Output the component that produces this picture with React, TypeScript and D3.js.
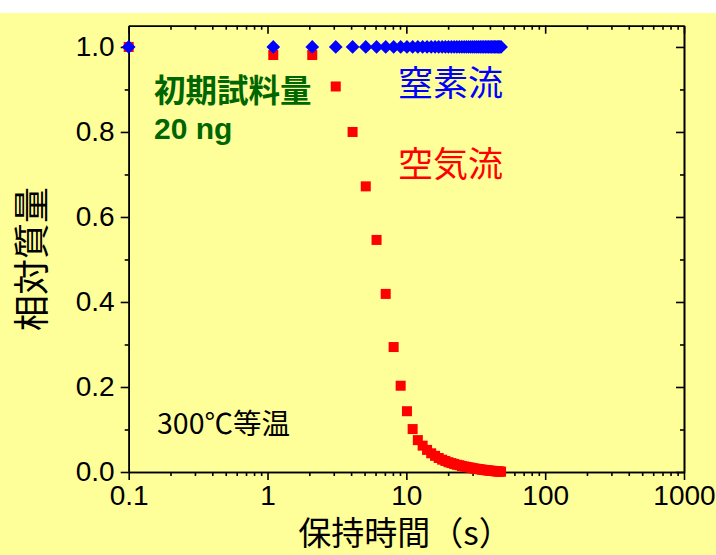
import React, { useEffect, useRef } from "react";
import * as d3 from "d3";

// holding time (s), one point per second, first point drawn at 0.1
const timeS = [
  0.1, 1.1, 2.1, 3.1, 4.1, 5.1, 6.1, 7.1, 8.1, 9.1, 10.1, 11.1, 12.1, 13.1, 14.1, 15.1, 16.1,
  17.1, 18.1, 19.1, 20.1, 21.1, 22.1, 23.1, 24.1, 25.1, 26.1, 27.1, 28.1, 29.1, 30.1, 31.1,
  32.1, 33.1, 34.1, 35.1, 36.1, 37.1, 38.1, 39.1, 40.1, 41.1, 42.1, 43.1, 44.1, 45.1, 46.1,
  47.1, 48.1,
];

// relative mass under air flow (red squares)
const airMass = [
  1.0, 0.981, 0.981, 0.907, 0.8, 0.672, 0.546, 0.419, 0.294, 0.203, 0.143, 0.101, 0.075, 0.062,
  0.052, 0.044, 0.038, 0.033, 0.029, 0.026, 0.023, 0.021, 0.019, 0.017, 0.016, 0.014, 0.013,
  0.012, 0.011, 0.01, 0.009, 0.008, 0.0075, 0.007, 0.006, 0.0055, 0.005, 0.0045, 0.004, 0.0035,
  0.003, 0.0028, 0.0025, 0.002, 0.0018, 0.0015, 0.0012, 0.001, 0.0008,
];

// relative mass under nitrogen flow (blue diamonds)
const n2Mass = timeS.map(() => 1.0);

const xMajor = [0.1, 1, 10, 100, 1000];
const xMajorLabels = ["0.1", "1", "10", "100", "1000"];
const yMajor = [0, 0.2, 0.4, 0.6, 0.8, 1.0];
const yMinor = [0.1, 0.3, 0.5, 0.7, 0.9];

function App() {
  const gRef = useRef<SVGGElement>(null);

  const svgWidth = 716;
  const svgHeight = 555;
  const left = 128.7;
  const right = 684;
  const top = 25.7;
  const bottom = 472;

  const x = d3.scaleLog().domain([0.1, 1000]).range([left, right]);
  const y = d3.scaleLinear().domain([0, 1.05]).range([bottom, top]);

  const xMinor: number[] = [];
  [0.1, 1, 10, 100].forEach((d) => {
    for (let k = 2; k <= 9; k++) xMinor.push(d * k);
  });

  useEffect(() => {
    const g = d3.select(gRef.current);
    g.selectAll("*").remove();

    const style = (sel: any) => {
      sel.selectAll("path").attr("stroke", "#000").attr("stroke-width", 1.6);
      sel.selectAll("line").attr("stroke", "#000").attr("stroke-width", 1.6);
      sel.selectAll("text")
        .attr("fill", "#000")
        .style("font-family", "'Liberation Sans', Arial, sans-serif")
        .style("font-size", "28px");
    };

    // bottom axis
    g.append("g")
      .attr("transform", `translate(0,${bottom})`)
      .call(d3.axisBottom(x).tickValues(xMajor).tickSize(8).tickSizeOuter(0).tickPadding(5)
        .tickFormat((d, i) => xMajorLabels[i]))
      .call(style);
    g.append("g")
      .attr("transform", `translate(0,${bottom})`)
      .call(d3.axisBottom(x).tickValues(xMinor).tickSize(4).tickSizeOuter(0).tickFormat(() => ""))
      .call(style);

    // top axis (ticks pointing in)
    g.append("g")
      .attr("transform", `translate(0,${top})`)
      .call(d3.axisTop(x).tickValues(xMajor).tickSize(-8).tickSizeOuter(0).tickFormat(() => ""))
      .call(style);
    g.append("g")
      .attr("transform", `translate(0,${top})`)
      .call(d3.axisTop(x).tickValues(xMinor).tickSize(-4).tickSizeOuter(0).tickFormat(() => ""))
      .call(style);

    // left axis
    g.append("g")
      .attr("transform", `translate(${left},0)`)
      .call(d3.axisLeft(y).tickValues(yMajor).tickSize(8).tickSizeOuter(0).tickPadding(6)
        .tickFormat(d3.format(".1f")))
      .call(style);
    g.append("g")
      .attr("transform", `translate(${left},0)`)
      .call(d3.axisLeft(y).tickValues(yMinor).tickSize(4).tickSizeOuter(0).tickFormat(() => ""))
      .call(style);

    // right axis (ticks pointing in)
    g.append("g")
      .attr("transform", `translate(${right},0)`)
      .call(d3.axisRight(y).tickValues(yMajor).tickSize(-8).tickSizeOuter(0).tickFormat(() => ""))
      .call(style);
    g.append("g")
      .attr("transform", `translate(${right},0)`)
      .call(d3.axisRight(y).tickValues(yMinor).tickSize(-4).tickSizeOuter(0).tickFormat(() => ""))
      .call(style);

    g.selectAll(".domain").attr("fill", "none");

    // air flow: red squares
    const sq = 10;
    g.append("g")
      .selectAll("rect")
      .data(timeS.map((t, i) => [t, airMass[i]]))
      .enter()
      .append("rect")
      .attr("x", (d) => x(d[0]) - sq / 2)
      .attr("y", (d) => y(d[1]) - sq / 2)
      .attr("width", sq)
      .attr("height", sq)
      .attr("fill", "#ff0000");

    // nitrogen flow: blue diamonds
    const diamond = d3.symbol().type(d3.symbolDiamond2).size(120);
    g.append("g")
      .selectAll("path")
      .data(timeS.map((t, i) => [t, n2Mass[i]]))
      .enter()
      .append("path")
      .attr("d", diamond)
      .attr("transform", (d) => `translate(${x(d[0])},${y(d[1])})`)
      .attr("fill", "#0000ff");
  }, []);

  const cjk = "'Noto Sans CJK JP', 'Noto Sans', sans-serif";

  return (
    <div style={{ position: "absolute", left: 0, top: 0 }}>
      <svg width={svgWidth} height={svgHeight} style={{ display: "block" }}>
        <rect x={0} y={0} width={svgWidth} height={svgHeight} fill="#ffffff" />
        <rect x={0} y={13} width={svgWidth} height={svgHeight - 13} fill="#ffff99" />
        <g ref={gRef}></g>
        <text x={154} y={102} fill="#006600" fontWeight="bold" fontSize={31.5} fontFamily={cjk}>
          初期試料量
        </text>
        <text x={154} y={139} fill="#006600" fontWeight="bold" fontSize={30}
          fontFamily="'Liberation Sans', Arial, sans-serif">
          20 ng
        </text>
        <text x={398} y={96} fill="#0000ff" fontSize={35} fontFamily={cjk}>
          窒素流
        </text>
        <text x={398} y={177} fill="#ff0000" fontSize={35} fontFamily={cjk}>
          空気流
        </text>
        <text x={157} y={434} fill="#000" fontSize={28.5} fontFamily={cjk}>
          300℃等温
        </text>
        <text x={405} y={545} fill="#000" fontSize={33} textAnchor="middle" fontFamily={cjk}>
          保持時間（s）
        </text>
        <text transform="translate(45,259) rotate(-90)" fill="#000" fontSize={36}
          textAnchor="middle" fontFamily={cjk}>
          相対質量
        </text>
      </svg>
    </div>
  );
}

export default App;
